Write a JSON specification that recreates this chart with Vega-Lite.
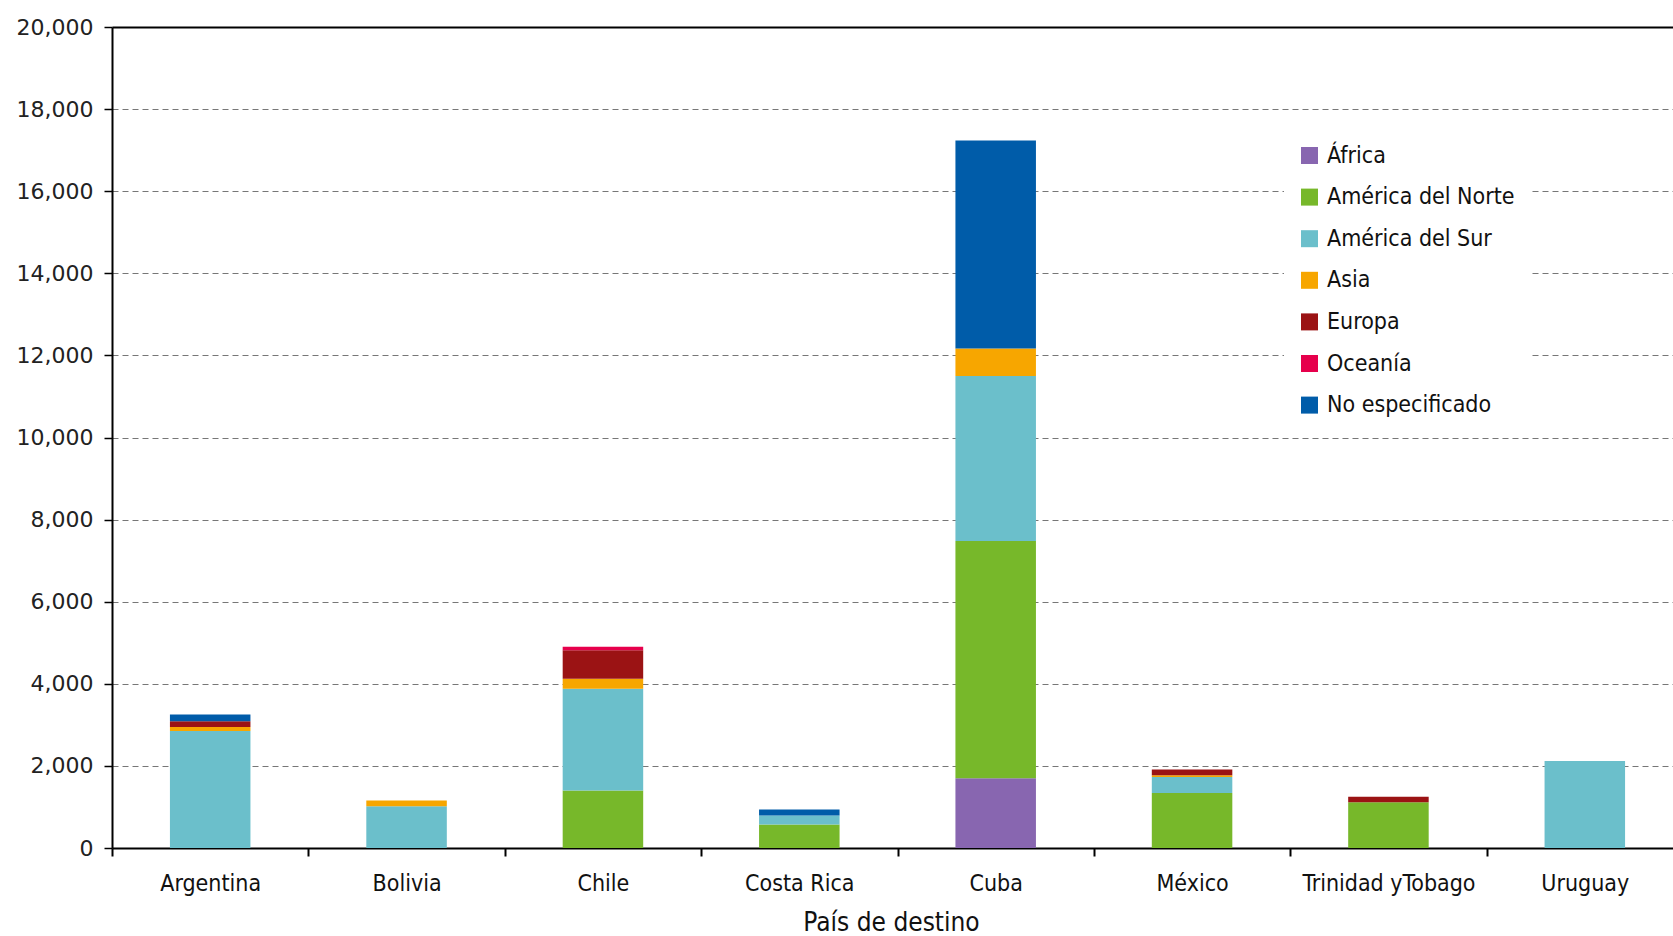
{
  "$schema": "https://vega.github.io/schema/vega-lite/v6.json",
  "width": 1571,
  "height": 821,
  "autosize": {"type": "none"},
  "padding": {"left": 112, "top": 27, "right": -10, "bottom": 88},
  "background": "white",
  "config": {"view": {"stroke": null}},
  "data": {
    "values": [
      {"pais": "Argentina", "region": "América del Sur", "orden": 3, "valor": 2850},
      {"pais": "Argentina", "region": "Asia", "orden": 4, "valor": 100},
      {"pais": "Argentina", "region": "Europa", "orden": 5, "valor": 140},
      {"pais": "Argentina", "region": "No especificado", "orden": 7, "valor": 160},
      {"pais": "Bolivia", "region": "América del Sur", "orden": 3, "valor": 1015},
      {"pais": "Bolivia", "region": "Asia", "orden": 4, "valor": 140},
      {"pais": "Chile", "region": "América del Norte", "orden": 2, "valor": 1400},
      {"pais": "Chile", "region": "América del Sur", "orden": 3, "valor": 2480},
      {"pais": "Chile", "region": "Asia", "orden": 4, "valor": 240},
      {"pais": "Chile", "region": "Europa", "orden": 5, "valor": 700},
      {"pais": "Chile", "region": "Oceanía", "orden": 6, "valor": 80},
      {"pais": "Costa Rica", "region": "América del Norte", "orden": 2, "valor": 570},
      {"pais": "Costa Rica", "region": "América del Sur", "orden": 3, "valor": 220},
      {"pais": "Costa Rica", "region": "No especificado", "orden": 7, "valor": 145},
      {"pais": "Cuba", "region": "África", "orden": 1, "valor": 1700},
      {"pais": "Cuba", "region": "América del Norte", "orden": 2, "valor": 5780},
      {"pais": "Cuba", "region": "América del Sur", "orden": 3, "valor": 4020},
      {"pais": "Cuba", "region": "Asia", "orden": 4, "valor": 670},
      {"pais": "Cuba", "region": "No especificado", "orden": 7, "valor": 5065},
      {"pais": "México", "region": "América del Norte", "orden": 2, "valor": 1340},
      {"pais": "México", "region": "América del Sur", "orden": 3, "valor": 390},
      {"pais": "México", "region": "Asia", "orden": 4, "valor": 40},
      {"pais": "México", "region": "Europa", "orden": 5, "valor": 140},
      {"pais": "Trinidad yTobago", "region": "América del Norte", "orden": 2, "valor": 1115},
      {"pais": "Trinidad yTobago", "region": "Europa", "orden": 5, "valor": 135},
      {"pais": "Uruguay", "region": "América del Sur", "orden": 3, "valor": 2120}
    ]
  },
  "mark": {"type": "bar", "width": {"band": 0.41}},
  "encoding": {
    "x": {
      "field": "pais",
      "type": "nominal",
      "sort": ["Argentina", "Bolivia", "Chile", "Costa Rica", "Cuba", "México", "Trinidad yTobago", "Uruguay"],
      "scale": {"paddingInner": 0, "paddingOuter": 0},
      "axis": {
        "title": "País de destino",
        "tickBand": "extent",
        "labelAngle": 0,
        "domainColor": "#000000",
        "domainWidth": 2,
        "tickColor": "#000000",
        "tickWidth": 2,
        "tickSize": 8,
        "labelPadding": 16,
        "labelLimit": 400,
        "labelFont": "DejaVu Sans Condensed, Liberation Sans Narrow, sans-serif",
        "labelFontSize": 23,
        "labelColor": "#111111",
        "titleFont": "DejaVu Sans Condensed, Liberation Sans Narrow, sans-serif",
        "titleFontSize": 26,
        "titleFontWeight": "normal",
        "titleColor": "#111111",
        "titlePadding": 14,
        "titleAnchor": "middle",
        "titleX": 779
      }
    },
    "y": {
      "field": "valor",
      "type": "quantitative",
      "stack": "zero",
      "scale": {"domain": [0, 20000], "nice": false},
      "axis": {
        "title": null,
        "values": [0, 2000, 4000, 6000, 8000, 10000, 12000, 14000, 16000, 18000, 20000],
        "format": ",d",
        "domainColor": "#000000",
        "domainWidth": 2,
        "tickColor": "#000000",
        "tickWidth": 1.5,
        "tickSize": 8,
        "labelPadding": 11,
        "labelFont": "DejaVu Sans",
        "labelFontSize": 22,
        "labelColor": "#222222",
        "grid": true,
        "gridColor": {"condition": {"test": "datum.value == 20000", "value": "#000000"}, "value": "#777777"},
        "gridDash": {"condition": {"test": "datum.value == 20000", "value": [1, 0]}, "value": [6, 4]},
        "gridWidth": {"condition": {"test": "datum.value == 20000", "value": 2}, "value": 1}
      }
    },
    "order": {"field": "orden", "type": "quantitative", "sort": "ascending"},
    "color": {
      "field": "region",
      "type": "nominal",
      "sort": ["África", "América del Norte", "América del Sur", "Asia", "Europa", "Oceanía", "No especificado"],
      "scale": {
        "domain": ["África", "América del Norte", "América del Sur", "Asia", "Europa", "Oceanía", "No especificado"],
        "range": ["#8866B0", "#77B82A", "#6BBFCB", "#F7A600", "#9B1314", "#E6004C", "#005CA9"]
      },
      "legend": {
        "title": null,
        "orient": "none",
        "legendX": 1172,
        "legendY": 103,
        "fillColor": "white",
        "padding": 14,
        "labelFont": "DejaVu Sans Condensed, Liberation Sans Narrow, sans-serif",
        "labelFontSize": 23,
        "labelColor": "#111111",
        "labelLimit": 400,
        "labelOffset": 6,
        "symbolType": "square",
        "symbolSize": 289,
        "symbolStrokeWidth": 0,
        "rowPadding": 17.6
      }
    }
  }
}
